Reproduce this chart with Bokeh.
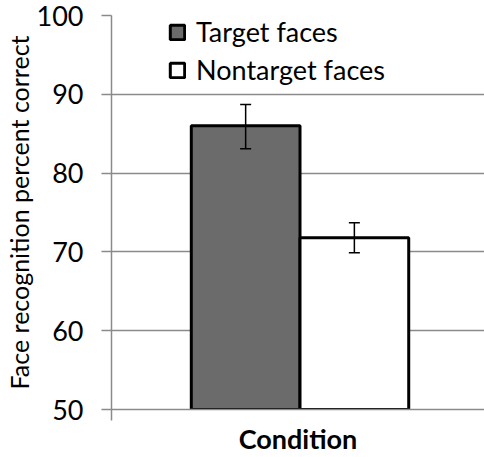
from bokeh.plotting import figure
from bokeh.models import ColumnDataSource, Whisker, TeeHead, FixedTicker, Range1d, Legend, LegendItem
from bokeh.embed import file_html
from bokeh.resources import INLINE

# Data
conditions = ["Target faces", "Nontarget faces"]
percent_correct = [86.0, 71.8]
err_low = [83.1, 69.9]
err_high = [88.7, 73.7]
fill_colors = ["#6b6b6b", "#ffffff"]
y_ticks = [50, 60, 70, 80, 90, 100]

FONT = "Lato"
x_pos = [i for i in range(len(conditions))]
x_start, x_end = -1.234, 2.197

p = figure(width=484, height=457, output_backend="svg", toolbar_location=None,
           x_range=Range1d(x_start, x_end), y_range=Range1d(50, 100),
           min_border_left=110, min_border_right=0, min_border_top=15, min_border_bottom=45)
p.outline_line_color = None
p.background_fill_color = "white"
p.border_fill_color = "white"

renderers = []
for i, name in enumerate(conditions):
    src = ColumnDataSource(dict(x=[x_pos[i]], top=[percent_correct[i]]))
    r = p.vbar(x="x", top="top", bottom=50, width=1.0, source=src,
               fill_color=fill_colors[i], line_color="black", line_width=3)
    renderers.append(r)

esrc = ColumnDataSource(dict(x=x_pos, lower=err_low, upper=err_high))
w = Whisker(base="x", lower="lower", upper="upper", source=esrc, level="overlay",
            line_color="black", line_width=1.5,
            upper_head=TeeHead(size=11, line_color="black", line_width=1.5),
            lower_head=TeeHead(size=11, line_color="black", line_width=1.5))
p.add_layout(w)

legend = Legend(items=[LegendItem(label=conditions[i], renderers=[renderers[i]]) for i in range(2)],
                location=(57, 323), padding=0, spacing=5, glyph_width=18, glyph_height=18,
                label_standoff=10, label_text_font=FONT, label_text_font_size="27px",
                label_text_color="black", background_fill_alpha=0, border_line_alpha=0,
                margin=0)
p.add_layout(legend)

# Y axis
p.yaxis.ticker = FixedTicker(ticks=y_ticks)
p.yaxis.axis_label = "Face recognition percent correct"
p.yaxis.axis_label_text_font = FONT
p.yaxis.axis_label_text_font_style = "normal"
p.yaxis.axis_label_text_font_size = "25px"
p.yaxis.axis_label_text_color = "black"
p.yaxis.axis_label_standoff = 0
p.yaxis.major_label_text_font = FONT
p.yaxis.major_label_text_font_size = "27px"
p.yaxis.major_label_text_color = "black"
p.yaxis.major_label_standoff = 18
p.yaxis.axis_line_color = "#8a8a8a"
p.yaxis.axis_line_width = 1.5
p.yaxis.major_tick_line_color = "#8a8a8a"
p.yaxis.major_tick_line_width = 1.5
p.yaxis.major_tick_out = 10
p.yaxis.major_tick_in = 0
p.yaxis.minor_tick_line_color = None

# X axis
p.xaxis.ticker = FixedTicker(ticks=[x_start])
p.xaxis.major_label_overrides = {x_start: ""}
p.xaxis.major_label_text_color = None
p.xaxis.major_label_standoff = 0
p.xaxis.axis_label = "Condition"
p.xaxis.axis_label_text_font = FONT
p.xaxis.axis_label_text_font_style = "bold"
p.xaxis.axis_label_text_font_size = "27px"
p.xaxis.axis_label_text_color = "black"
p.xaxis.axis_label_standoff = 1
p.xaxis.axis_line_color = "#8a8a8a"
p.xaxis.axis_line_width = 1.5
p.xaxis.major_tick_line_color = "#8a8a8a"
p.xaxis.major_tick_line_width = 1.5
p.xaxis.major_tick_out = 11
p.xaxis.major_tick_in = 0
p.xaxis.minor_tick_line_color = None

p.xgrid.grid_line_color = None
p.ygrid.grid_line_color = "#8a8a8a"
p.ygrid.grid_line_width = 1.5
p.ygrid.ticker = FixedTicker(ticks=y_ticks)

open("out.html", "w").write(file_html(p, INLINE))
